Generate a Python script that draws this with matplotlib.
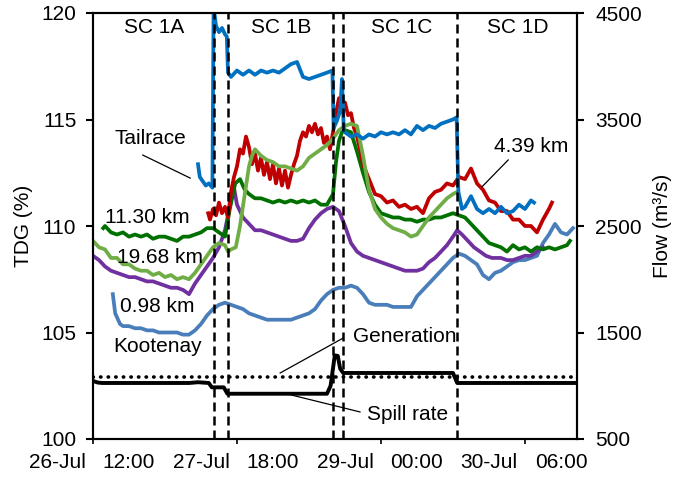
import numpy as np
import matplotlib
matplotlib.use("Agg")
import matplotlib.pyplot as plt

plt.rcParams['font.family'] = ['Liberation Sans', 'DejaVu Sans']
FS = 15

# Time axis in hours from the start of the record (26-Jul 00:00)
x_end = 80.67
tick_hours = [0, 24, 48, 72]
label_hours = [-6, 6, 18, 30, 42, 54, 66, 78]
time_labels = ['26-Jul', '12:00', '27-Jul', '18:00', '29-Jul', '00:00', '30-Jul', '06:00']

# Scenario boundaries (h)
bounds = [20.2, 22.5, 40.0, 41.7, 60.7]
scenarios = ['SC 1A', 'SC 1B', 'SC 1C', 'SC 1D']
scenario_hours = [10.2, 31.3, 51.5, 70.8]

# TDG (%) series
tail_h = [17.5, 17.8, 18.3, 18.8, 19.3, 19.9, 20.1, 20.5, 21.0, 21.5, 22.0, 22.3, 22.5, 23,
          24, 25, 26, 27, 28, 29, 30, 31, 32, 33, 34, 35, 36, 37, 38, 39,
          39.9, 40.1, 40.6, 41.2, 41.5, 41.8,
          42, 43, 44, 45, 46, 47, 48, 49, 50, 51, 52, 53, 54, 55, 56, 57, 58, 59, 60,
          60.6, 60.9, 61.5, 62, 63, 64, 65, 66, 67, 68, 69, 70, 71, 72, 73, 73.5]
tailrace = [112.9, 112.3, 112.1, 111.9, 112.0, 111.8, 120.3, 119.4, 119.1, 119.3, 119.0, 118.9,
            117.2, 117.0,
            117.3, 117.1, 117.3, 117.1, 117.3, 117.2, 117.3, 117.2, 117.4, 117.6, 117.7, 117.0,
            116.9, 117.0, 117.1, 117.2,
            117.3, 114.6, 114.9, 115.4, 116.9, 114.5,
            114.4, 114.2, 114.3, 114.1, 114.3, 114.2, 114.4, 114.3, 114.4, 114.3, 114.5, 114.3,
            114.7, 114.5, 114.7, 114.6, 114.8, 114.9, 115.0,
            115.1, 111.6, 110.8, 110.9, 111.4, 110.8, 110.6, 110.8, 110.6, 110.9, 110.6, 110.7,
            111.0, 110.8, 111.2, 111.1]

red_h = np.concatenate([[19.2], np.arange(19.5, 45.5, 0.5), np.arange(46, 77), [76.5]])
km_4_39 = [110.6,
           110.3, 110.8, 110.5, 111.1, 110.6, 110.9, 110.4, 111.6, 112.3, 112.8, 113.6, 113.4,
           114.2, 113.7, 112.9, 113.4, 112.6, 113.2, 112.4, 113.0, 112.2, 112.9, 112.0, 112.7,
           111.9, 112.6, 111.8, 112.4, 112.9, 113.3, 114.0, 114.4, 114.2, 114.7, 114.4, 114.8,
           114.3, 114.6, 113.9, 114.2, 113.6, 114.4, 115.3, 116.0, 115.6, 115.8, 115.2, 115.3,
           114.6, 114.2, 113.6, 112.9,
           112.2, 111.5, 111.4, 111.1, 111.2, 110.9, 111.0, 110.8, 110.9, 110.6, 111.3, 111.6,
           111.7, 112.0, 111.9, 112.3, 112.2, 112.7, 112.0, 111.7, 111.2, 111.1, 110.7, 110.7,
           110.3, 110.3, 110.0, 110.0, 109.7, 110.3, 110.8,
           111.1]

lg_h = np.concatenate([np.arange(0, 23), [22.5, 23, 23.8, 24.5, 25.3, 26, 26.5],
                       np.arange(27, 61), [60.7]])
km_19_68 = [109.3, 109.0, 108.9, 108.5, 108.5, 108.2, 108.2, 108.0, 107.9, 107.9, 107.7, 107.8,
            107.6, 107.7, 107.5, 107.6, 107.5, 107.8, 108.2, 108.6, 109.0, 109.2, 109.1,
            108.8, 108.9, 109.0, 110.0, 111.5, 112.8, 113.3,
            113.6, 113.3, 113.1, 113.0, 112.8, 112.8, 112.7, 112.6, 112.8, 113.2, 113.4, 113.6,
            113.8, 114.1, 114.5, 114.7, 114.8, 114.7, 113.3, 111.7, 110.8, 110.4, 110.1, 109.9,
            109.8, 109.7, 109.5, 109.6, 110.0, 110.4, 110.7, 111.0, 111.3, 111.5,
            111.6]

dg_h = np.concatenate([[1.7], np.arange(2, 23), [22.8, 23.7, 24.5, 25.3], np.arange(26, 41),
                       [40.5, 41, 41.5], np.arange(42, 80), [79.5]])
km_11_30 = [109.9,
            110.0, 109.7, 109.6, 109.7, 109.5, 109.6, 109.5, 109.6, 109.4, 109.5, 109.5, 109.4,
            109.3, 109.5, 109.5, 109.6, 109.7, 109.9, 109.9, 109.7, 109.5,
            110.8, 112.0, 112.2, 111.7,
            111.5, 111.3, 111.3, 111.2, 111.1, 111.2, 111.1, 111.2, 111.1, 111.2, 111.1, 111.2,
            111.0, 111.0, 111.5,
            113.0, 114.0, 114.4,
            114.5, 114.4, 113.5, 112.5, 111.6, 111.0, 110.6, 110.5, 110.4, 110.4, 110.3, 110.3,
            110.2, 110.3, 110.3, 110.4, 110.4, 110.5, 110.6, 110.5, 110.4, 110.1, 109.8, 109.5,
            109.2, 109.1, 109.0, 108.8, 109.1, 108.9, 109.0, 108.8, 109.0, 108.9, 109.0, 108.9,
            109.0, 109.1,
            109.3]

pu_h = np.concatenate([np.arange(0, 24), [23.5], np.arange(24, 61), [60.7],
                       np.arange(61.5, 67.0, 1.0), np.arange(68, 76)])
km_0_98 = [108.6, 108.4, 108.1, 107.9, 107.8, 107.7, 107.6, 107.6, 107.5, 107.4, 107.4, 107.3,
           107.2, 107.1, 107.1, 107.0, 106.8, 107.3, 107.7, 108.1, 108.5, 109.0, 109.8, 111.2,
           111.8,
           111.0, 110.4, 110.1, 109.8, 109.8, 109.7, 109.6, 109.5, 109.4, 109.3, 109.3, 109.4,
           109.9, 110.3, 110.6, 110.8, 110.9, 110.7, 110.0, 109.2, 108.8, 108.6, 108.5, 108.4,
           108.3, 108.2, 108.1, 108.0, 107.9, 107.9, 107.9, 108.0, 108.3, 108.5, 108.8, 109.1,
           109.5,
           109.8,
           109.6, 109.3, 109.0, 108.8, 108.6, 108.5,
           108.5, 108.4, 108.4, 108.5, 108.6, 108.6, 108.8, 109.0]
# sort the purple grid so the short rise at 23.5 h sits in order
_order = np.argsort(pu_h, kind='stable')
pu_h = np.asarray(pu_h)[_order]
km_0_98 = np.asarray(km_0_98)[_order]

sb_h = np.concatenate([[3.3, 3.7, 4.5], np.arange(5, 81)])
kootenay = [106.8, 105.9, 105.4,
            105.3, 105.3, 105.2, 105.2, 105.1, 105.1, 105.0, 105.0, 105.0, 105.0, 104.9, 104.9,
            105.1, 105.4, 105.8, 106.1, 106.3, 106.4, 106.3, 106.2, 106.1, 105.9, 105.8, 105.7,
            105.6, 105.6, 105.6, 105.6, 105.6, 105.7, 105.8, 105.9, 106.1, 106.5, 106.8, 107.0,
            107.1, 107.1, 107.2, 107.1, 106.8, 106.4, 106.3, 106.3, 106.3, 106.2, 106.2, 106.2,
            106.2, 106.7, 107.0, 107.3, 107.6, 107.9, 108.2, 108.5, 108.7, 108.6, 108.4, 108.2,
            107.7, 107.5, 107.8, 107.9, 108.1, 108.3, 108.4, 108.4, 108.5, 108.6, 109.2, 109.6,
            110.1, 109.7, 109.6, 109.9]

# Flow (m3/s)
gen_h = [0, x_end]
generation = [1085, 1085]
spill_h = [0, 0.8, 1.5, 16, 17.5, 19.3, 19.8, 21.8, 22.4, 39.0, 39.6, 40.3, 40.8, 41.2, 41.7,
           60.0, 60.7, x_end]
spill = [1045, 1030, 1026, 1026, 1033, 1026, 985, 985, 925, 925, 1000, 1285, 1280, 1160, 1120,
         1120, 1026, 1026]

fig = plt.figure(figsize=(6.75, 4.79), dpi=100)
ax = fig.add_axes([93 / 675, 40 / 479, 484 / 675, 426 / 479])
ax2 = ax.twinx()

lw = 2.7
ax.plot(sb_h, kootenay, color='#4A7EBB', lw=lw)
ax.plot(pu_h, km_0_98, color='#7030A0', lw=lw)
ax.plot(dg_h, km_11_30, color='#007000', lw=lw)
ax.plot(red_h, km_4_39, color='#C00000', lw=lw)
ax.plot(lg_h, km_19_68, color='#70AD47', lw=lw)
ax.plot(tail_h, tailrace, color='#0070C0', lw=lw)

ax2.plot(gen_h, generation, color='k', lw=2.6, linestyle=(0, (0.1, 2.0)),
         dash_capstyle='round')
ax2.plot(spill_h, spill, color='k', lw=2.8)
for b in bounds:
    ax2.axvline(b, color='k', lw=1.8, linestyle=(0, (3.6, 2.0)))

ax.set_xlim(0, x_end)
ax.set_ylim(100, 120)
ax2.set_ylim(500, 4500)
ax.set_yticks([100, 105, 110, 115, 120])
ax2.set_yticks([500, 1500, 2500, 3500, 4500])
ax.set_xticks(tick_hours)
ax.set_xticklabels([])
ax.tick_params(axis='x', direction='out', length=3.6, width=1.2)
ax.tick_params(axis='y', direction='out', length=5, width=1.5, labelsize=FS, pad=7)
ax2.tick_params(axis='y', direction='out', length=5, width=1.5, labelsize=FS, pad=8)
for a in (ax, ax2):
    for s in a.spines.values():
        s.set_linewidth(1.5)

for h, t in zip(label_hours, time_labels):
    ax.text(h, -0.056, t, transform=ax.get_xaxis_transform(), ha='center', va='center',
            fontsize=FS, clip_on=False)

ax.set_ylabel('TDG (%)', fontsize=FS, labelpad=6)
ax2.set_ylabel('Flow (m³/s)', fontsize=FS, labelpad=8)

for h, t in zip(scenario_hours, scenarios):
    ax.text(h, 119.3, t, ha='center', va='center', fontsize=FS)

ax.text(9.5, 114.13, 'Tailrace', ha='center', va='center', fontsize=FS)
ax.plot([8.3, 16.2], [113.33, 112.25], color='k', lw=0.9)
ax.text(9.1, 110.42, '11.30 km', ha='center', va='center', fontsize=FS)
ax.text(11.2, 108.54, '19.68 km', ha='center', va='center', fontsize=FS)
ax.text(10.7, 106.24, '0.98 km', ha='center', va='center', fontsize=FS)
ax.text(10.8, 104.32, 'Kootenay', ha='center', va='center', fontsize=FS)
ax.text(73.0, 113.71, '4.39 km', ha='center', va='center', fontsize=FS)
ax.plot([69.2, 64.8], [113.1, 111.83], color='k', lw=0.9)
ax.text(52.0, 104.79, 'Generation', ha='center', va='center', fontsize=FS)
ax.plot([41.7, 31.2], [104.74, 103.1], color='k', lw=0.9)
ax.text(52.5, 101.17, 'Spill rate', ha='center', va='center', fontsize=FS)
ax.plot([33.0, 44.5], [102.07, 101.27], color='k', lw=0.9)

fig.savefig('out.png', dpi=100)
